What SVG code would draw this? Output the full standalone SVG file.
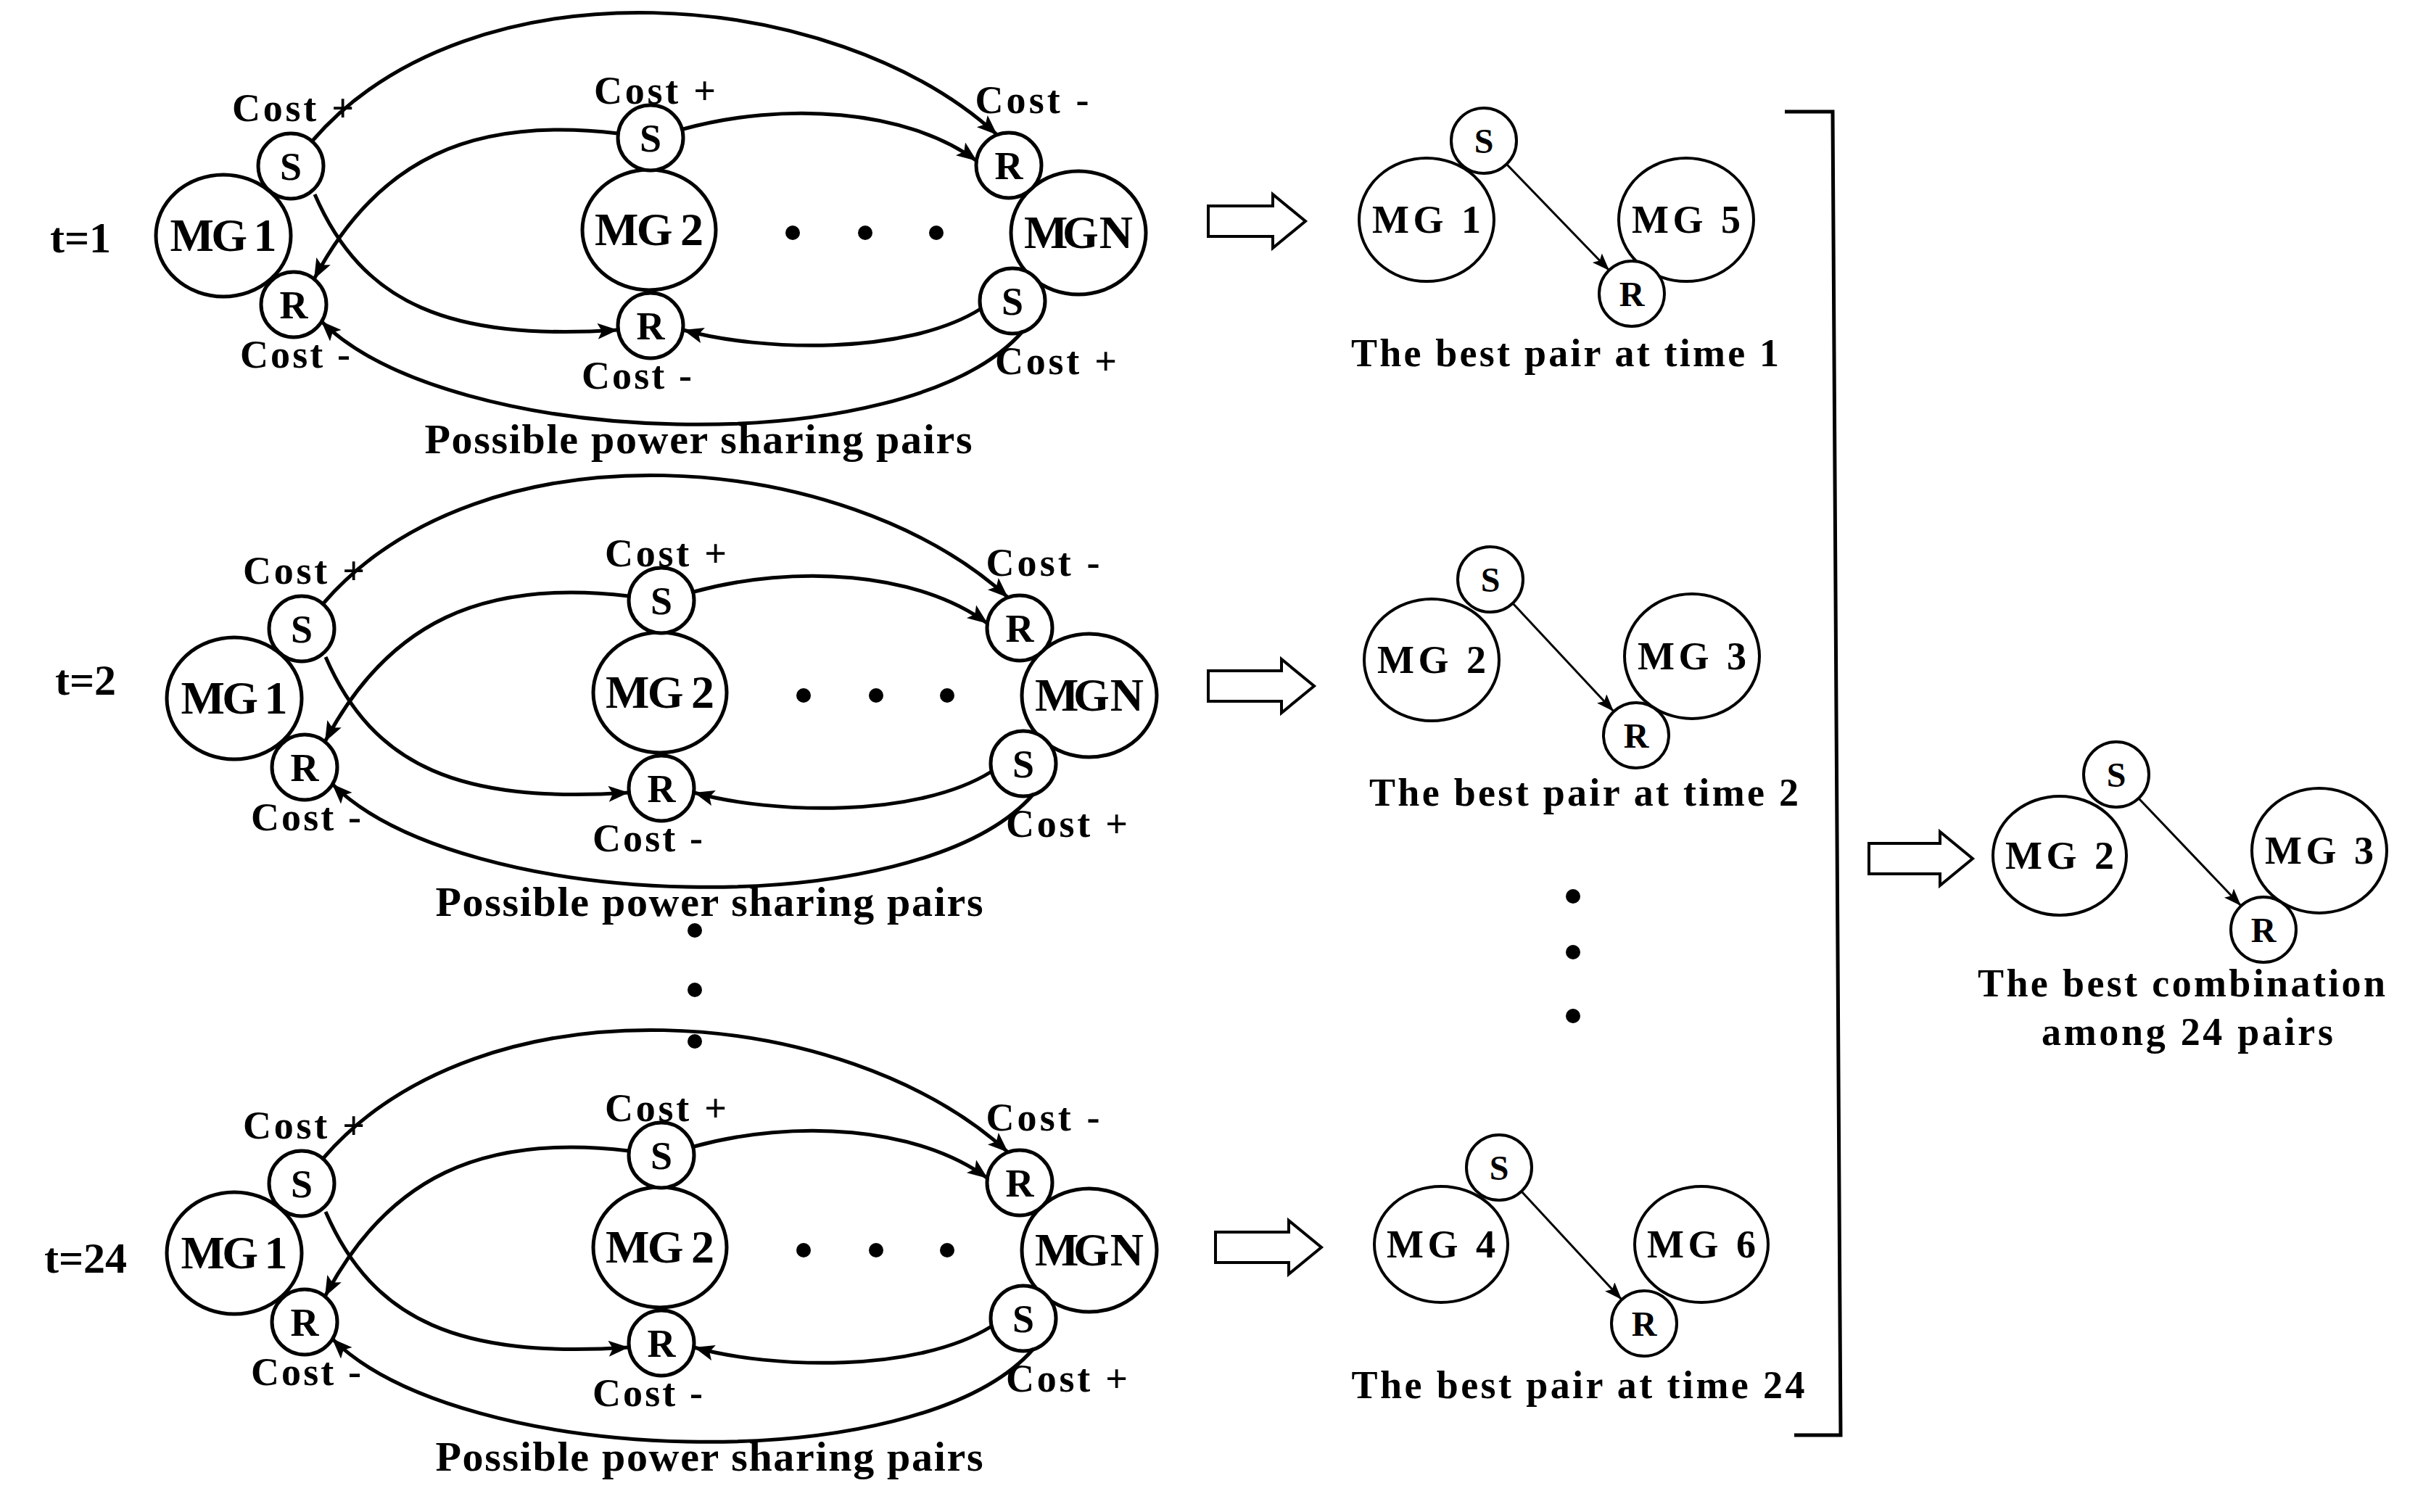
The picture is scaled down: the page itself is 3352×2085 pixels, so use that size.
<svg xmlns="http://www.w3.org/2000/svg" width="3352" height="2085" viewBox="0 0 3352 2085">
<style>
.n{fill:#fff;stroke:#000;stroke-width:5}
.pn{fill:#fff;stroke:#000;stroke-width:4}
.t{font-family:"Liberation Serif",serif;font-weight:bold;fill:#000;text-anchor:middle}
.mg{font-size:64px}
.sr{font-size:54px}
.c{font-size:54px}
.cap{font-size:58px}
.pmg{font-size:54px}
.psr{font-size:48px}
.pl{font-size:54px}
.e{fill:none;stroke:#000;stroke-width:5;marker-end:url(#ah)}
.pe{fill:none;stroke:#000;stroke-width:3;marker-end:url(#ahs)}
.ha{fill:#fff;stroke:#000;stroke-width:4}
</style>
<defs>
<marker id="ah" markerUnits="userSpaceOnUse" markerWidth="30" markerHeight="24" refX="28" refY="11" orient="auto"><path d="M0,0 L28,11 L0,22 L6,11 z" fill="#000"/></marker>
<marker id="ahs" markerUnits="userSpaceOnUse" markerWidth="26" markerHeight="20" refX="24" refY="9" orient="auto"><path d="M0,0 L24,9 L0,18 L5,9 z" fill="#000"/></marker>
</defs>
<rect width="3352" height="2085" fill="#fff"/>
<text class="t" x="111" y="348" font-size="60">t=1</text>
<text class="t" x="118" y="958" font-size="60">t=2</text>
<text class="t" x="118" y="1755" font-size="60">t=24</text>

<g id="block-t1">
<g id="b1-mg1"><ellipse class="n" cx="308" cy="325" rx="93" ry="84"/><text class="t mg" x="308" y="346" textLength="147">MG 1</text></g>
<g id="b1-mg2"><ellipse class="n" cx="895" cy="317" rx="92" ry="83"/><text class="t mg" x="895" y="338" textLength="150">MG 2</text></g>
<g id="b1-mgn"><ellipse class="n" cx="1487" cy="321" rx="93" ry="85"/><text class="t mg" x="1487" y="342" textLength="150">MG N</text></g>
<g id="b1-s1"><circle class="n" cx="401" cy="229" r="45"/><text class="t sr" x="401" y="248">S</text></g>
<g id="b1-r1"><circle class="n" cx="405" cy="420" r="45"/><text class="t sr" x="405" y="439">R</text></g>
<g id="b1-s2"><circle class="n" cx="897" cy="190" r="45"/><text class="t sr" x="897" y="209">S</text></g>
<g id="b1-r2"><circle class="n" cx="897" cy="449" r="45"/><text class="t sr" x="897" y="468">R</text></g>
<g id="b1-rn"><circle class="n" cx="1391" cy="228" r="45"/><text class="t sr" x="1391" y="247">R</text></g>
<g id="b1-sn"><circle class="n" cx="1396" cy="415" r="45"/><text class="t sr" x="1396" y="434">S</text></g>
<circle cx="1093" cy="321" r="10"/><circle cx="1193" cy="321" r="10"/><circle cx="1291" cy="321" r="10"/>
<text class="t c" x="404" y="167" textLength="168">Cost +</text>
<text class="t c" x="903" y="143" textLength="168">Cost +</text>
<text class="t c" x="1423" y="156" textLength="157">Cost -</text>
<text class="t c" x="407" y="507" textLength="152">Cost -</text>
<text class="t c" x="878" y="536" textLength="152">Cost -</text>
<text class="t c" x="1456" y="516" textLength="168">Cost +</text>
<text class="t cap" x="963" y="625" textLength="755">Possible power sharing pairs</text>
<g id="b1-edges">
<path class="e" d="M430,195 C650,-60 1150,-20 1375,186"/>
<path class="e" d="M942,178 C1080,140 1250,150 1347,222"/>
<path class="e" d="M852,184 C650,160 520,220 433,385"/>
<path class="e" d="M434,268 C500,420 620,470 852,455"/>
<path class="e" d="M1352,426 C1250,490 1050,485 942,455"/>
<path class="e" d="M1410,457 C1250,640 620,620 443,443"/>
</g>
</g>

<g id="block-t2" transform="translate(15,638)">
<g id="b2-mg1"><ellipse class="n" cx="308" cy="325" rx="93" ry="84"/><text class="t mg" x="308" y="346" textLength="147">MG 1</text></g>
<g id="b2-mg2"><ellipse class="n" cx="895" cy="317" rx="92" ry="83"/><text class="t mg" x="895" y="338" textLength="150">MG 2</text></g>
<g id="b2-mgn"><ellipse class="n" cx="1487" cy="321" rx="93" ry="85"/><text class="t mg" x="1487" y="342" textLength="150">MG N</text></g>
<g id="b2-s1"><circle class="n" cx="401" cy="229" r="45"/><text class="t sr" x="401" y="248">S</text></g>
<g id="b2-r1"><circle class="n" cx="405" cy="420" r="45"/><text class="t sr" x="405" y="439">R</text></g>
<g id="b2-s2"><circle class="n" cx="897" cy="190" r="45"/><text class="t sr" x="897" y="209">S</text></g>
<g id="b2-r2"><circle class="n" cx="897" cy="449" r="45"/><text class="t sr" x="897" y="468">R</text></g>
<g id="b2-rn"><circle class="n" cx="1391" cy="228" r="45"/><text class="t sr" x="1391" y="247">R</text></g>
<g id="b2-sn"><circle class="n" cx="1396" cy="415" r="45"/><text class="t sr" x="1396" y="434">S</text></g>
<circle cx="1093" cy="321" r="10"/><circle cx="1193" cy="321" r="10"/><circle cx="1291" cy="321" r="10"/>
<text class="t c" x="404" y="167" textLength="168">Cost +</text>
<text class="t c" x="903" y="143" textLength="168">Cost +</text>
<text class="t c" x="1423" y="156" textLength="157">Cost -</text>
<text class="t c" x="407" y="507" textLength="152">Cost -</text>
<text class="t c" x="878" y="536" textLength="152">Cost -</text>
<text class="t c" x="1456" y="516" textLength="168">Cost +</text>
<text class="t cap" x="963" y="625" textLength="755">Possible power sharing pairs</text>
<g id="b2-edges">
<path class="e" d="M430,195 C650,-60 1150,-20 1375,186"/>
<path class="e" d="M942,178 C1080,140 1250,150 1347,222"/>
<path class="e" d="M852,184 C650,160 520,220 433,385"/>
<path class="e" d="M434,268 C500,420 620,470 852,455"/>
<path class="e" d="M1352,426 C1250,490 1050,485 942,455"/>
<path class="e" d="M1410,457 C1250,640 620,620 443,443"/>
</g>
</g>

<g id="block-t24" transform="translate(15,1403)">
<g id="b3-mg1"><ellipse class="n" cx="308" cy="325" rx="93" ry="84"/><text class="t mg" x="308" y="346" textLength="147">MG 1</text></g>
<g id="b3-mg2"><ellipse class="n" cx="895" cy="317" rx="92" ry="83"/><text class="t mg" x="895" y="338" textLength="150">MG 2</text></g>
<g id="b3-mgn"><ellipse class="n" cx="1487" cy="321" rx="93" ry="85"/><text class="t mg" x="1487" y="342" textLength="150">MG N</text></g>
<g id="b3-s1"><circle class="n" cx="401" cy="229" r="45"/><text class="t sr" x="401" y="248">S</text></g>
<g id="b3-r1"><circle class="n" cx="405" cy="420" r="45"/><text class="t sr" x="405" y="439">R</text></g>
<g id="b3-s2"><circle class="n" cx="897" cy="190" r="45"/><text class="t sr" x="897" y="209">S</text></g>
<g id="b3-r2"><circle class="n" cx="897" cy="449" r="45"/><text class="t sr" x="897" y="468">R</text></g>
<g id="b3-rn"><circle class="n" cx="1391" cy="228" r="45"/><text class="t sr" x="1391" y="247">R</text></g>
<g id="b3-sn"><circle class="n" cx="1396" cy="415" r="45"/><text class="t sr" x="1396" y="434">S</text></g>
<circle cx="1093" cy="321" r="10"/><circle cx="1193" cy="321" r="10"/><circle cx="1291" cy="321" r="10"/>
<text class="t c" x="404" y="167" textLength="168">Cost +</text>
<text class="t c" x="903" y="143" textLength="168">Cost +</text>
<text class="t c" x="1423" y="156" textLength="157">Cost -</text>
<text class="t c" x="407" y="507" textLength="152">Cost -</text>
<text class="t c" x="878" y="536" textLength="152">Cost -</text>
<text class="t c" x="1456" y="516" textLength="168">Cost +</text>
<text class="t cap" x="963" y="625" textLength="755">Possible power sharing pairs</text>
<g id="b3-edges">
<path class="e" d="M430,195 C650,-60 1150,-20 1375,186"/>
<path class="e" d="M942,178 C1080,140 1250,150 1347,222"/>
<path class="e" d="M852,184 C650,160 520,220 433,385"/>
<path class="e" d="M434,268 C500,420 620,470 852,455"/>
<path class="e" d="M1352,426 C1250,490 1050,485 942,455"/>
<path class="e" d="M1410,457 C1250,640 620,620 443,443"/>
</g>
</g>

<circle cx="958" cy="1283" r="10"/><circle cx="958" cy="1365" r="10"/><circle cx="958" cy="1436" r="10"/>

<g id="arrows">
<polygon class="ha" points="1666,284 1755,284 1755,268 1800,305 1755,342 1755,326 1666,326"/>
<polygon class="ha" points="1666,925 1767,925 1767,909 1812,946 1767,983 1767,967 1666,967"/>
<polygon class="ha" points="1676,1699 1777,1699 1777,1683 1822,1720 1777,1757 1777,1741 1676,1741"/>
<polygon class="ha" points="2577,1163 2675,1163 2675,1147 2720,1184 2675,1221 2675,1205 2577,1205"/>
<polyline points="2461,154 2527,154 2538,1979 2474,1979" fill="none" stroke="#000" stroke-width="5"/>
</g>

<g id="pair1">
<ellipse class="pn" cx="1967" cy="303" rx="93" ry="85"/><text class="t pmg" x="1967" y="321" textLength="150">MG 1</text>
<ellipse class="pn" cx="2325" cy="303" rx="93" ry="85"/><text class="t pmg" x="2325" y="321" textLength="150">MG 5</text>
<circle class="pn" cx="2046" cy="194" r="45"/><text class="t psr" x="2046" y="211">S</text>
<circle class="pn" cx="2250" cy="405" r="45"/><text class="t psr" x="2250" y="422">R</text>
<path class="pe" d="M2077,226 L2219,373"/>
<text class="t pl" x="2158" y="505" textLength="590">The best pair at time 1</text>
</g>
<g id="pair2">
<ellipse class="pn" cx="1974" cy="910" rx="93" ry="84"/><text class="t pmg" x="1974" y="928" textLength="150">MG 2</text>
<ellipse class="pn" cx="2333" cy="905" rx="93" ry="86"/><text class="t pmg" x="2333" y="923" textLength="150">MG 3</text>
<circle class="pn" cx="2055" cy="799" r="45"/><text class="t psr" x="2055" y="816">S</text>
<circle class="pn" cx="2256" cy="1014" r="45"/><text class="t psr" x="2256" y="1031">R</text>
<path class="pe" d="M2086,832 L2225,981"/>
<text class="t pl" x="2184" y="1111" textLength="592">The best pair at time 2</text>
</g>
<circle cx="2169" cy="1236" r="10"/><circle cx="2169" cy="1313" r="10"/><circle cx="2169" cy="1401" r="10"/>
<g id="pair24">
<ellipse class="pn" cx="1987" cy="1716" rx="92" ry="80"/><text class="t pmg" x="1987" y="1734" textLength="150">MG 4</text>
<ellipse class="pn" cx="2346" cy="1716" rx="92" ry="80"/><text class="t pmg" x="2346" y="1734" textLength="150">MG 6</text>
<circle class="pn" cx="2067" cy="1610" r="45"/><text class="t psr" x="2067" y="1627">S</text>
<circle class="pn" cx="2267" cy="1825" r="45"/><text class="t psr" x="2267" y="1842">R</text>
<path class="pe" d="M2098,1643 L2236,1792"/>
<text class="t pl" x="2176" y="1928" textLength="625">The best pair at time 24</text>
</g>
<g id="final">
<ellipse class="pn" cx="2840" cy="1180" rx="92" ry="82"/><text class="t pmg" x="2840" y="1198" textLength="150">MG 2</text>
<ellipse class="pn" cx="3198" cy="1173" rx="93" ry="86"/><text class="t pmg" x="3198" y="1191" textLength="150">MG 3</text>
<circle class="pn" cx="2918" cy="1068" r="45"/><text class="t psr" x="2918" y="1085">S</text>
<circle class="pn" cx="3121" cy="1282" r="45"/><text class="t psr" x="3121" y="1299">R</text>
<path class="pe" d="M2949,1101 L3090,1249"/>
<text class="t pl" x="3008" y="1374" textLength="562">The best combination</text>
<text class="t pl" x="3016" y="1441" textLength="402">among 24 pairs</text>
</g>
</svg>
